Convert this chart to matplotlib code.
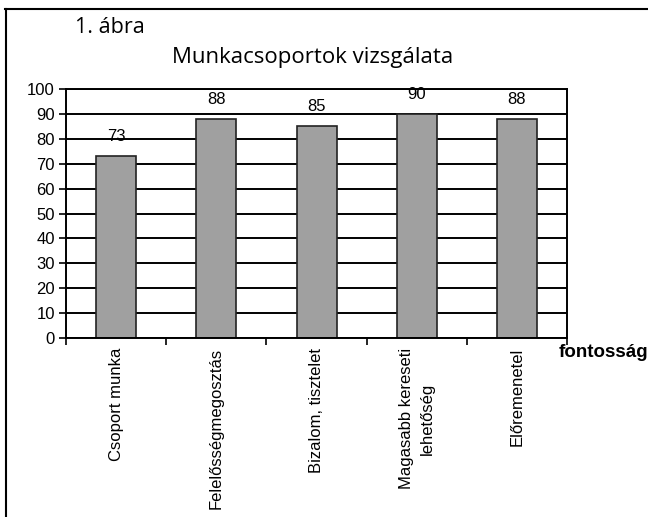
import matplotlib.pyplot as plt
from matplotlib.lines import Line2D
import numpy as np

# data
categories = ["Csoport munka", "Felelősségmegosztás", "Bizalom, tisztelet",
              "Magasabb kereseti\nlehetőség", "Előremenetel"]
values = [73, 88, 85, 90, 88]
yticks = list(range(0, 101, 10))

plt.rcParams['font.family'] = ['Liberation Sans', 'DejaVu Sans']

fig = plt.figure(figsize=(6.48, 5.17), dpi=100)
ax = fig.add_axes([0.102, 0.346, 0.773, 0.482])

x = np.arange(len(values))
# horizontal grid behind the bars
for t in yticks:
    ax.axhline(t, color='black', lw=1.4, zorder=1)
ax.bar(x, values, width=0.4, color='#a0a0a0', edgecolor='#222222',
       linewidth=1.2, zorder=2)

for xi, v in zip(x, values):
    ax.text(xi, v + 7.8, str(v), ha='center', va='center', fontsize=12,
            zorder=3)

ax.set_xlim(-0.5, len(values) - 0.5)
ax.set_ylim(0, 100)
ax.set_yticks(yticks)
ax.set_yticklabels([str(t) for t in yticks], fontsize=12)
ax.tick_params(axis='y', direction='out', length=5, width=1.2, pad=3)

# ticks sit between the categories, labels under the bars
ax.set_xticks(np.arange(len(values) + 1) - 0.5)
ax.set_xticklabels([])
ax.tick_params(axis='x', direction='out', length=5, width=1.2)
for xi, lab in zip(x, categories):
    ax.text(xi, -4, lab, rotation=90, ha='center', va='top', fontsize=12,
            multialignment='center', linespacing=1.45,
            transform=ax.transData)

for s in ax.spines.values():
    s.set_linewidth(1.4)
    s.set_color('black')

ax.text(0.983, -0.058, "fontosság", transform=ax.transAxes, fontsize=13.5,
        fontweight='bold', ha='left', va='center', clip_on=False)

fig.text(0.116, 0.947, "1. ábra", fontsize=15.5, family=['Open Sans', 'DejaVu Sans'],
         ha='left', va='center')
fig.text(0.482, 0.888, "Munkacsoportok vizsgálata", fontsize=16,
         family=['Open Sans', 'DejaVu Sans'], ha='center', va='center')

# outer frame (top and left edges)
fig.add_artist(Line2D([0.008, 1.0], [0.982, 0.982], color='black', lw=1.5,
                      transform=fig.transFigure))
fig.add_artist(Line2D([0.009, 0.009], [0.0, 0.982], color='black', lw=1.5,
                      transform=fig.transFigure))

fig.savefig("out.png", dpi=100)
